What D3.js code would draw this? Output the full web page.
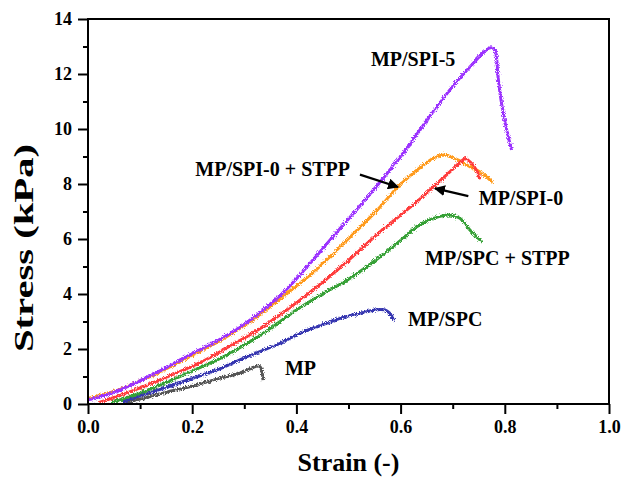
<!DOCTYPE html>
<html>
<head>
<meta charset="utf-8">
<script src="https://cdn.jsdelivr.net/npm/d3@7"></script>
<style>
  html, body { margin: 0; padding: 0; background: #fff; }
  svg { display: block; }
  text { font-family: "Liberation Serif", "Times New Roman", serif; font-weight: bold; fill: #000; }
</style>
</head>
<body>
<svg id="chart" width="622" height="477"></svg>
<script>
// ---- data (strain, stress kPa) ----
const xTicks = [0.0, 0.2, 0.4, 0.6, 0.8, 1.0];
const xMinorTicks = [0.1, 0.3, 0.5, 0.7, 0.9];
const yTicks = [0, 2, 4, 6, 8, 10, 12, 14];
const yMinorTicks = [1, 3, 5, 7, 9, 11, 13];

const seriesNames = ["MP", "MP/SPC", "MP/SPC + STPP", "MP/SPI-0 + STPP", "MP/SPI-0", "MP/SPI-5"];
const seriesColors = ["#555555", "#3535b0", "#35a035", "#ff9a1a", "#ff3a3a", "#9b30ff"];

const mpData = [[0.07,0.05],[0.1,0.18],[0.153,0.44],[0.2,0.65],[0.24,0.87],[0.29,1.12],[0.328,1.38],[0.332,1.3],[0.336,0.87]];
const mpSpcData = [[0.065,0.07],[0.1,0.3],[0.153,0.62],[0.2,0.93],[0.25,1.26],[0.3,1.68],[0.368,2.2],[0.407,2.57],[0.45,2.88],[0.484,3.12],[0.535,3.36],[0.56,3.44],[0.57,3.42],[0.578,3.32],[0.582,3.22],[0.587,3.03]];
const mpSpcStppData = [[0.045,0.05],[0.1,0.4],[0.154,0.81],[0.2,1.2],[0.25,1.62],[0.305,2.2],[0.35,2.75],[0.4,3.42],[0.45,4.0],[0.497,4.5],[0.55,5.2],[0.6,5.95],[0.631,6.45],[0.663,6.75],[0.695,6.87],[0.714,6.75],[0.733,6.33],[0.756,5.9]];
const mpSpi0StppData = [[0,0.2],[0.03,0.35],[0.06,0.52],[0.09,0.76],[0.14,1.18],[0.19,1.68],[0.25,2.27],[0.3,2.85],[0.34,3.4],[0.388,4.12],[0.43,4.75],[0.464,5.35],[0.51,6.2],[0.555,7.05],[0.595,7.9],[0.631,8.5],[0.663,8.93],[0.685,9.05],[0.711,8.87],[0.733,8.63],[0.756,8.39],[0.777,8.05]];
const mpSpi0Data = [[0.02,0.05],[0.06,0.3],[0.123,0.76],[0.17,1.13],[0.218,1.53],[0.27,2.08],[0.326,2.69],[0.38,3.4],[0.432,4.15],[0.48,4.9],[0.522,5.6],[0.56,6.25],[0.6,6.87],[0.637,7.45],[0.666,7.95],[0.695,8.45],[0.715,8.8],[0.724,8.93],[0.736,8.75],[0.747,8.45],[0.752,8.17]];
const mpSpi5Data = [[0,0.15],[0.03,0.3],[0.06,0.5],[0.09,0.76],[0.14,1.22],[0.19,1.74],[0.25,2.32],[0.3,2.9],[0.34,3.48],[0.38,4.15],[0.43,5.2],[0.48,6.3],[0.53,7.38],[0.6,9.0],[0.65,10.3],[0.7,11.55],[0.74,12.4],[0.76,12.8],[0.772,12.95],[0.78,12.9],[0.784,12.6],[0.787,11.9],[0.794,10.9],[0.802,10.1],[0.813,9.24]];

const seriesData = [mpData, mpSpcData, mpSpcStppData, mpSpi0StppData, mpSpi0Data, mpSpi5Data];

// annotations: label text, anchor (data coords)
const labelTexts = ["MP/SPI-5", "MP/SPI-0 + STPP", "MP/SPI-0", "MP/SPC + STPP", "MP/SPC", "MP"];
const labelPos = [[0.543, 12.3], [0.206, 8.3], [0.75, 7.25], [0.647, 5.05], [0.614, 2.83], [0.378, 1.05]];
// arrows: [from, to] in data coords
const arrows = [
  [[0.522, 8.34], [0.595, 7.89]],
  [[0.73, 7.56], [0.666, 7.84]]
];

// ---- layout ----
const svg = d3.select("#chart");
const margin = { left: 88, top: 19, right: 609, bottom: 404 };
const x = d3.scaleLinear().domain([0, 1]).range([margin.left, margin.right]);
const y = d3.scaleLinear().domain([0, 14]).range([margin.bottom, margin.top]);

svg.append("defs").html(`
  <clipPath id="plotclip"><rect x="${margin.left}" y="${margin.top}" width="${margin.right - margin.left}" height="${margin.bottom - margin.top}"/></clipPath>
  <filter id="noise" x="-5%" y="-5%" width="110%" height="110%">
    <feTurbulence type="fractalNoise" baseFrequency="1.1" numOctaves="2" seed="7" result="t"/>
    <feDisplacementMap in="SourceGraphic" in2="t" scale="5" xChannelSelector="R" yChannelSelector="G"/>
  </filter>
  <marker id="arrowhead" viewBox="0 0 10 10" refX="9" refY="5" markerWidth="5" markerHeight="5" orient="auto">
    <path d="M0,0 L10,5 L0,10 z" fill="#000"/>
  </marker>
`);

// lines
const line = d3.line().x(d => x(d[0])).y(d => y(d[1])).curve(d3.curveCatmullRom.alpha(0.5));
const lineG = svg.append("g").attr("clip-path", "url(#plotclip)");
seriesData.forEach((data, i) => {
  lineG.append("path")
    .datum(data)
    .attr("d", line)
    .attr("fill", "none")
    .attr("stroke", seriesColors[i])
    .attr("stroke-width", 3)
    .attr("stroke-linejoin", "round")
    .attr("filter", "url(#noise)");
});

// axes
const xAxis = d3.axisBottom(x).tickValues(xTicks).tickFormat(d3.format(".1f")).tickSize(10).tickPadding(6);
const yAxis = d3.axisLeft(y).tickValues(yTicks).tickFormat(d3.format("d")).tickSize(10).tickPadding(6);

const gx = svg.append("g").attr("transform", `translate(0,${margin.bottom})`).call(xAxis);
const gy = svg.append("g").attr("transform", `translate(${margin.left},0)`).call(yAxis);
[gx, gy].forEach(g => {
  g.select(".domain").remove();
  g.selectAll(".tick line").attr("stroke", "#000").attr("stroke-width", 2);
  g.selectAll(".tick text").style("font-family", '"Liberation Serif", serif').style("font-weight", "bold").style("font-size", "18px").attr("fill", "#000");
});

svg.append("g").attr("transform", `translate(0,${margin.bottom})`)
  .call(d3.axisBottom(x).tickValues(xMinorTicks).tickSize(5).tickFormat(""))
  .call(g => g.select(".domain").remove())
  .call(g => g.selectAll(".tick line").attr("stroke", "#000").attr("stroke-width", 2));
svg.append("g").attr("transform", `translate(${margin.left},0)`)
  .call(d3.axisLeft(y).tickValues(yMinorTicks).tickSize(5).tickFormat(""))
  .call(g => g.select(".domain").remove())
  .call(g => g.selectAll(".tick line").attr("stroke", "#000").attr("stroke-width", 2));

// frame
svg.append("rect")
  .attr("x", margin.left).attr("y", margin.top)
  .attr("width", margin.right - margin.left).attr("height", margin.bottom - margin.top)
  .attr("fill", "none").attr("stroke", "#000").attr("stroke-width", 2);

// axis titles
svg.append("text")
  .attr("x", (margin.left + margin.right) / 2).attr("y", 471)
  .attr("text-anchor", "middle").style("font-size", "26px")
  .text("Strain (-)");
svg.append("text")
  .attr("transform", `translate(33,248) rotate(-90)`)
  .attr("text-anchor", "middle").style("font-size", "28px")
  .attr("textLength", 208).attr("lengthAdjust", "spacingAndGlyphs")
  .text("Stress (kPa)");

// labels
labelTexts.forEach((t, i) => {
  svg.append("text")
    .attr("x", x(labelPos[i][0])).attr("y", y(labelPos[i][1]))
    .style("font-size", "20px")
    .text(t);
});

// arrows
arrows.forEach(a => {
  svg.append("line")
    .attr("x1", x(a[0][0])).attr("y1", y(a[0][1]))
    .attr("x2", x(a[1][0])).attr("y2", y(a[1][1]))
    .attr("stroke", "#000").attr("stroke-width", 2.2)
    .attr("marker-end", "url(#arrowhead)");
});
</script>
</body>
</html>
